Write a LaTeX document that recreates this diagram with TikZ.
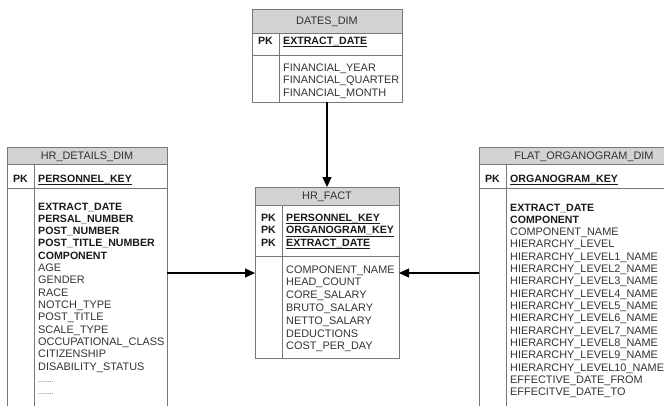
\documentclass[tikz,border=0pt]{standalone}
\usepackage{fontspec}
\setmainfont{Liberation Sans}
\usetikzlibrary{arrows.meta}
\definecolor{bordc}{HTML}{777777}
\definecolor{hdrfill}{HTML}{D3D3D3}
\definecolor{txtc}{HTML}{333333}
\definecolor{boldc}{HTML}{1A1A1A}
\newcommand\mydotrow{........}
\tikzset{
  box/.style={draw=bordc, line width=0.9pt, inner sep=0pt, outer sep=0pt, anchor=north west},
  hdr/.style={box, fill=hdrfill, text=txtc, text height=7.8pt, text depth=0pt, font=\fontsize{10.9}{12}\selectfont},
  divline/.style={draw=bordc, line width=0.9pt},
  row/.style={anchor=base west, inner sep=0pt, text=txtc, font=\fontsize{10.9}{12}\selectfont},
  brow/.style={row, text=boldc, font=\fontsize{10.6}{12}\selectfont\bfseries},
  drow/.style={row, font=\fontsize{7}{8}\selectfont},
  pklab/.style={anchor=base, inner sep=0pt, text=boldc, font=\fontsize{10.6}{12}\selectfont\bfseries},
  link/.style={draw=black, line width=1.2pt, -{Triangle[length=10pt,width=9pt]}},
}
\begin{document}
\begin{tikzpicture}[x=1pt,y=-1pt]
\useasboundingbox (0,0) rectangle (664,405);
\clip (0,0) rectangle (664,405);

% ---------- DATES_DIM ----------
\node[hdr, minimum width=150pt, minimum height=24pt] (dh) at (252,9) {DATES\_DIM};
\node[box, minimum width=150pt, minimum height=22pt] (dk) at (252,33) {};
\node[box, minimum width=150pt, minimum height=47pt] (db) at (252,55) {};
\draw[divline] (279,33) -- (279,102);
\node[pklab] (dpk) at (265.5,44) {PK};
\node[brow] (dkey) at (283,44) {\underline{EXTRACT\_DATE}};
\foreach \t [count=\i] in {FINANCIAL\_YEAR, FINANCIAL\_QUARTER, FINANCIAL\_MONTH}
  \node[row] (dr-\i) at (283,{71+(\i-1)*12.5}) {\t};

% ---------- HR_FACT ----------
\node[hdr, minimum width=144pt, minimum height=18pt] (fh) at (255,187) {HR\_FACT};
\node[box, minimum width=144pt, minimum height=51pt] (fk) at (255,205) {};
\node[box, minimum width=144pt, minimum height=102pt] (fb) at (255,256) {};
\draw[divline] (282,205) -- (282,358);
\foreach \t [count=\i] in {PERSONNEL\_KEY, ORGANOGRAM\_KEY, EXTRACT\_DATE}{
  \node[pklab] (fpk-\i) at (268.5,{221+(\i-1)*12.5}) {PK};
  \node[brow] (fkey-\i) at (286,{221+(\i-1)*12.5}) {\underline{\t}};
}
\foreach \t [count=\i] in {COMPONENT\_NAME, HEAD\_COUNT, CORE\_SALARY, BRUTO\_SALARY, NETTO\_SALARY, DEDUCTIONS, COST\_PER\_DAY}
  \node[row] (fr-\i) at (286,{273+(\i-1)*12.8}) {\t};

% ---------- HR_DETAILS_DIM ----------
\node[hdr, minimum width=160pt, minimum height=17pt] (hh) at (7,147) {HR\_DETAILS\_DIM};
\node[box, minimum width=160pt, minimum height=24pt] (hk) at (7,164) {};
\node[box, minimum width=160pt, minimum height=232pt] (hb) at (7,188) {};
\draw[divline] (34,164) -- (34,420);
\node[pklab] (hpk) at (20.5,182) {PK};
\node[brow] (hkey) at (38,182) {\underline{PERSONNEL\_KEY}};
\foreach \t/\s [count=\i] in {EXTRACT\_DATE/brow, PERSAL\_NUMBER/brow, POST\_NUMBER/brow,
  POST\_TITLE\_NUMBER/brow, COMPONENT/brow, AGE/row, GENDER/row, RACE/row, NOTCH\_TYPE/row,
  POST\_TITLE/row, SCALE\_TYPE/row, OCCUPATIONAL\_CLASS/row, CITIZENSHIP/row,
  DISABILITY\_STATUS/row, \mydotrow/drow, \mydotrow/drow}
  \node[\s] (hr-\i) at (38,{210+(\i-1)*12.33}) {\t};

% ---------- FLAT_ORGANOGRAM_DIM ----------
\node[hdr, minimum width=210pt, minimum height=17pt] (oh) at (479,147) {FLAT\_ORGANOGRAM\_DIM};
\node[box, minimum width=210pt, minimum height=24pt] (ok) at (479,164) {};
\node[box, minimum width=210pt, minimum height=232pt] (ob) at (479,188) {};
\draw[divline] (506,164) -- (506,420);
\node[pklab] (opk) at (492.5,182) {PK};
\node[brow] (okey) at (510,182) {\underline{ORGANOGRAM\_KEY}};
\foreach \t/\s [count=\i] in {EXTRACT\_DATE/brow, COMPONENT/brow, COMPONENT\_NAME/row,
  HIERARCHY\_LEVEL/row, HIERARCHY\_LEVEL1\_NAME/row, HIERARCHY\_LEVEL2\_NAME/row,
  HIERARCHY\_LEVEL3\_NAME/row, HIERARCHY\_LEVEL4\_NAME/row, HIERARCHY\_LEVEL5\_NAME/row,
  HIERARCHY\_LEVEL6\_NAME/row, HIERARCHY\_LEVEL7\_NAME/row, HIERARCHY\_LEVEL8\_NAME/row,
  HIERARCHY\_LEVEL9\_NAME/row, HIERARCHY\_LEVEL10\_NAME/row, EFFECTIVE\_DATE\_FROM/row,
  EFFECITVE\_DATE\_TO/row}
  \node[\s] (or-\i) at (510,{211+(\i-1)*12.33}) {\t};

% ---------- connectors ----------
\coordinate (ly) at (0,273);
\draw[link] (db.south) -- (fh.north);
\draw[link] (hb.east |- ly) -- (fb.west |- ly);
\draw[link] (ob.west |- ly) -- (fb.east |- ly);
\end{tikzpicture}
\end{document}
